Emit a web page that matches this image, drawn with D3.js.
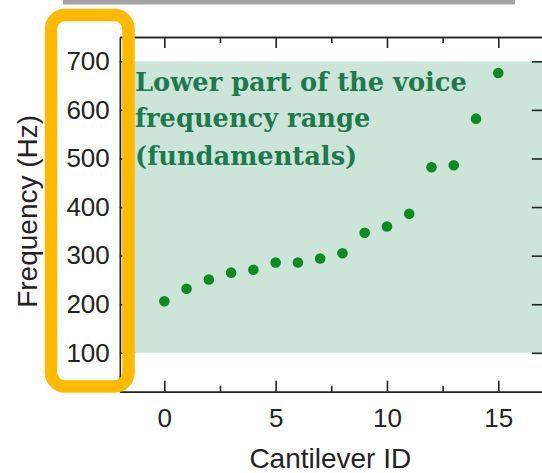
<!DOCTYPE html>
<html>
<head>
<meta charset="utf-8">
<script src="https://cdn.jsdelivr.net/npm/d3@7/dist/d3.min.js"></script>
<style>
  html, body { margin: 0; padding: 0; background: #fff; }
  svg { display: block; }
</style>
</head>
<body>
<svg id="chart" width="542" height="473"></svg>
<script>
// ---- data ----
const cantileverIds = [0,1,2,3,4,5,6,7,8,9,10,11,12,13,14,15];
const frequencies   = [206,232,251,265,271,286,286,294,305,347,360,386,482,486,582,676];
const bandRange     = [100, 700];
const xMajorTicks   = [0,5,10,15];
const xMinorTicks   = [2.5,7.5,12.5];
const yTicks        = [100,200,300,400,500,600,700];
const annotationLines = ["Lower part of the voice", "frequency range", "(fundamentals)"];
const xLabel = "Cantilever ID";
const yLabel = "Frequency (Hz)";

(function () {
const svg = d3.select("#chart");

const x = d3.scaleLinear().domain([-2, 17]).range([119.8, 542.8]);
const y = d3.scaleLinear().domain([20, 750]).range([391.7, 37]);

// faint grey strip at top (cropped from source figure)
svg.append("rect").attr("x", 63).attr("y", 0).attr("width", 452).attr("height", 4.5)
  .attr("fill", "#a3a3a3");

// band
svg.append("rect")
  .attr("x", x(-2)).attr("width", x(17) - x(-2))
  .attr("y", y(bandRange[1])).attr("height", y(bandRange[0]) - y(bandRange[1]))
  .attr("fill", "#cde5d9");

// annotation text
const textG = svg.append("g");
const baselines = [90.5, 127, 164.5];
const lines = textG.selectAll("text").data(annotationLines).join("text")
  .attr("x", 135)
  .attr("y", (d, i) => baselines[i])
  .attr("font-family", "'DejaVu Serif', serif")
  .attr("font-weight", "bold")
  .attr("fill", "#1d7a4d")
  .attr("font-size", 26)
  .text(d => d);
const w0 = lines.node().getComputedTextLength();
const fs = 26 * 332 / w0;
lines.attr("font-size", fs);

// points
svg.append("g").selectAll("circle").data(cantileverIds).join("circle")
  .attr("cx", d => x(d))
  .attr("cy", (d, i) => y(frequencies[i]))
  .attr("r", 5.3)
  .attr("fill", "#0b8c22");

function styleAxis(g) {
  g.selectAll("path.domain").attr("stroke", "#222").attr("stroke-width", 1.6);
  g.selectAll(".tick line").attr("stroke", "#222").attr("stroke-width", 1.6);
  g.selectAll(".tick text")
    .attr("font-family", "'Liberation Sans', Arial, sans-serif")
    .attr("font-size", 26)
    .attr("fill", "#222");
}

const gBottom = svg.append("g").attr("transform", `translate(0,${y(20)})`)
  .call(d3.axisBottom(x).tickValues(xMajorTicks).tickSize(-11).tickSizeOuter(0).tickPadding(17));
gBottom.call(styleAxis);
const gBottomMinor = svg.append("g").attr("transform", `translate(0,${y(20)})`)
  .call(d3.axisBottom(x).tickValues(xMinorTicks).tickSize(-6).tickSizeOuter(0).tickFormat(""));
gBottomMinor.call(styleAxis);

const gTop = svg.append("g").attr("transform", `translate(0,${y(750)})`)
  .call(d3.axisTop(x).tickValues(xMajorTicks).tickSize(-11).tickSizeOuter(0).tickFormat(""));
gTop.call(styleAxis);
const gTopMinor = svg.append("g").attr("transform", `translate(0,${y(750)})`)
  .call(d3.axisTop(x).tickValues(xMinorTicks).tickSize(-6).tickSizeOuter(0).tickFormat(""));
gTopMinor.call(styleAxis);

const gLeft = svg.append("g").attr("transform", `translate(${x(-2)},0)`)
  .call(d3.axisLeft(y).tickValues(yTicks).tickSize(-11).tickSizeOuter(0).tickPadding(10));
gLeft.call(styleAxis);

const gRight = svg.append("g").attr("transform", `translate(${x(17)},0)`)
  .call(d3.axisRight(y).tickValues(yTicks).tickSize(-11).tickSizeOuter(0).tickFormat(""));
gRight.call(styleAxis);

// axis labels
svg.append("text")
  .attr("x", (x(-2) + x(17)) / 2 - 1)
  .attr("y", 468)
  .attr("text-anchor", "middle")
  .attr("font-family", "'Liberation Sans', Arial, sans-serif")
  .attr("font-size", 28)
  .attr("fill", "#222")
  .text(xLabel);

svg.append("text")
  .attr("transform", `translate(37,${(y(20) + y(750)) / 2 - 3}) rotate(-90)`)
  .attr("text-anchor", "middle")
  .attr("font-family", "'Liberation Sans', Arial, sans-serif")
  .attr("font-size", 28)
  .attr("fill", "#222")
  .text(yLabel);

// orange highlight box
svg.append("rect")
  .attr("x", 51).attr("y", 15).attr("width", 77.5).attr("height", 371.5)
  .attr("rx", 14).attr("ry", 14)
  .attr("fill", "none")
  .attr("stroke", "#ffba00")
  .attr("stroke-width", 12.5);
})();
</script>
</body>
</html>
